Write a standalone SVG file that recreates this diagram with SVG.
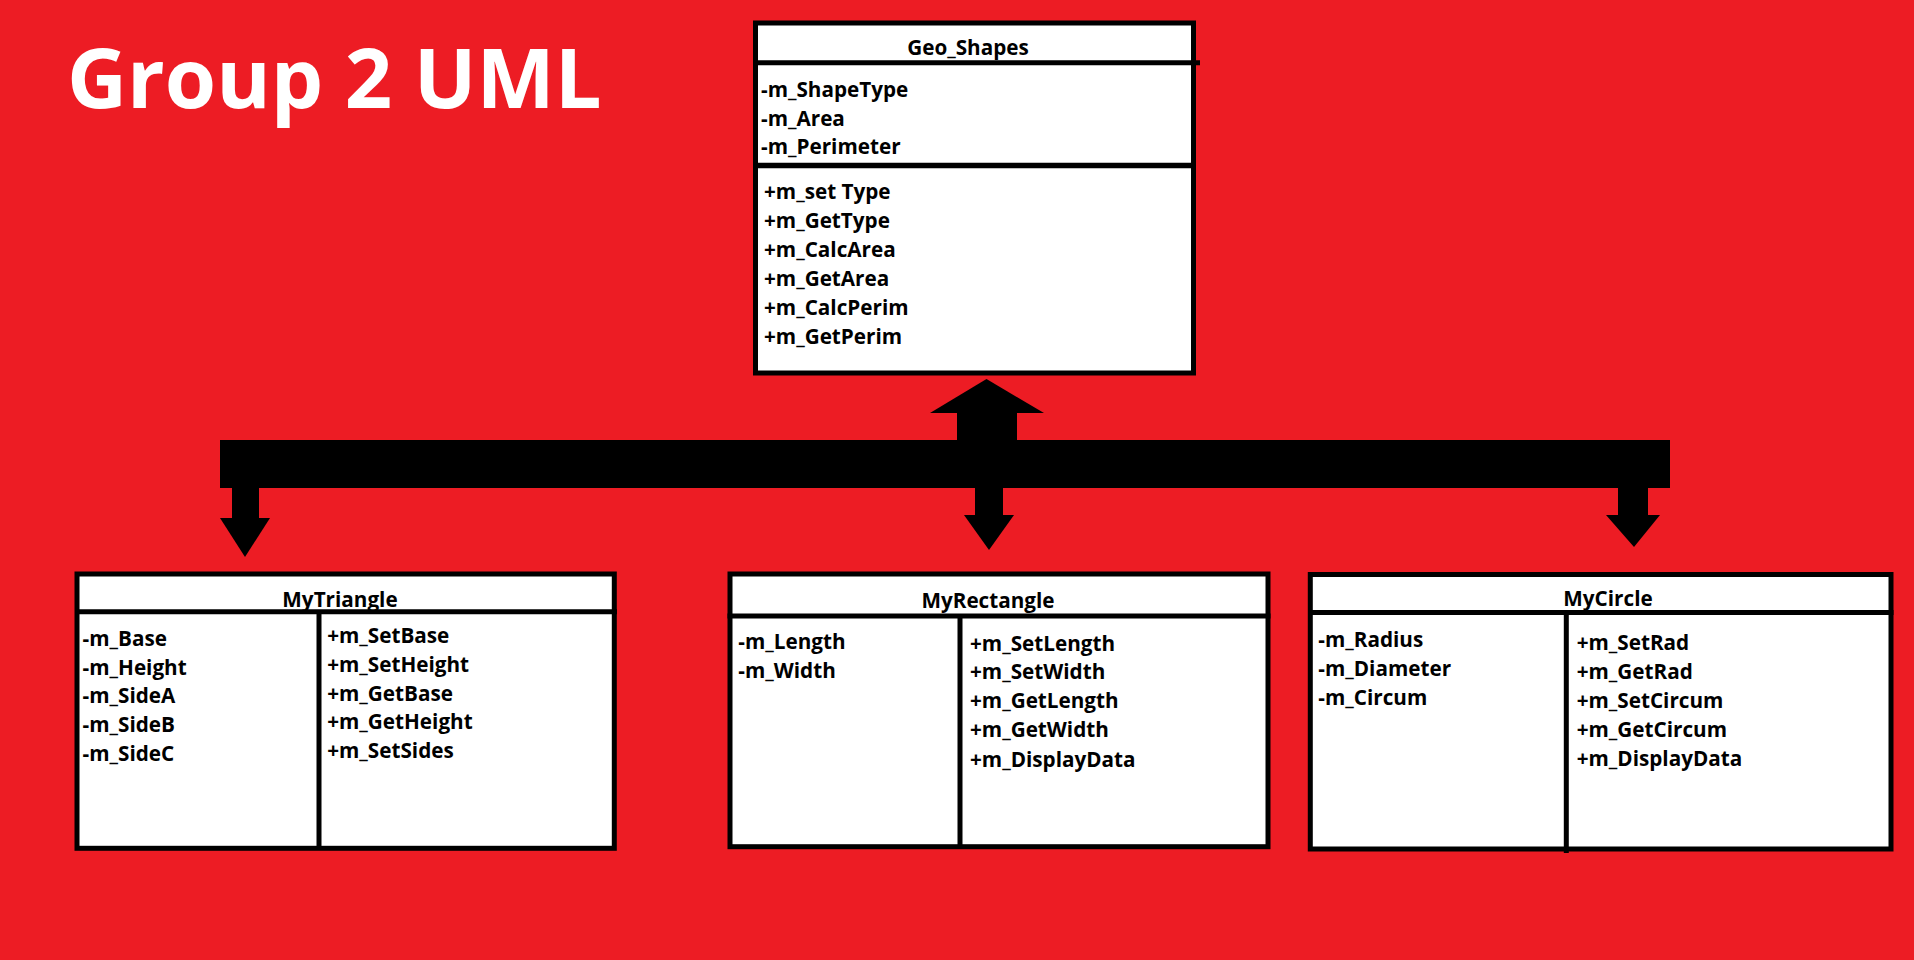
<svg xmlns="http://www.w3.org/2000/svg" width="1914" height="960" viewBox="0 0 1914 960">
<style>
.box{fill:#fff;stroke:#000;stroke-width:5}
.ln{stroke:#000;stroke-width:5;fill:none}
.t{font-family:"Open Sans","Liberation Sans",sans-serif;font-weight:700;font-size:20.7px;fill:#000}
.c{text-anchor:middle}
.title{font-family:"Open Sans","Liberation Sans",sans-serif;font-weight:700;font-size:83px;fill:#fff}
.blk{fill:#000}
</style>
<rect x="0" y="0" width="1914" height="960" fill="#ED1C24"/>
<text class="title" x="67" y="108">Group 2 UML</text>

<g id="connectors">
<rect class="blk" x="220" y="440" width="1450" height="48"/>
<rect class="blk" x="957" y="412" width="60" height="30"/>
<polygon class="blk" points="930,413 1044,413 986.5,379"/>
<rect class="blk" x="232" y="486" width="27" height="33"/>
<polygon class="blk" points="220,518 270,518 245,557"/>
<rect class="blk" x="975" y="486" width="28" height="30"/>
<polygon class="blk" points="964,515 1014,515 989,550"/>
<rect class="blk" x="1618" y="486" width="30" height="30"/>
<polygon class="blk" points="1606,515 1660,515 1634,547"/>
</g>

<g id="Geo_Shapes">
<rect class="box" x="755.5" y="23" width="438" height="350"/>
<text class="t c" x="968" y="55">Geo_Shapes</text>
<line class="ln" x1="753" y1="62.7" x2="1200" y2="62.7"/>
<line class="ln" x1="753" y1="165.5" x2="1196" y2="165.5" style="stroke-width:5.5"/>
<text class="t" x="761" y="97">-m_ShapeType</text>
<text class="t" x="761" y="125.7">-m_Area</text>
<text class="t" x="761" y="154">-m_Perimeter</text>
<text class="t" x="764" y="199">+m_set Type</text>
<text class="t" x="764" y="228.3">+m_GetType</text>
<text class="t" x="764" y="257.3">+m_CalcArea</text>
<text class="t" x="764" y="286">+m_GetArea</text>
<text class="t" x="764" y="315">+m_CalcPerim</text>
<text class="t" x="764" y="344">+m_GetPerim</text>
</g>

<g id="MyTriangle">
<rect class="box" x="77" y="574" width="537.3" height="274.3"/>
<text class="t c" x="340" y="606.7">MyTriangle</text>
<line class="ln" x1="75" y1="611.7" x2="617" y2="611.7"/>
<line class="ln" x1="319" y1="612" x2="319" y2="846"/>
<text class="t" x="82.6" y="645.7">-m_Base</text>
<text class="t" x="82.6" y="674.7">-m_Height</text>
<text class="t" x="82.6" y="703.3">-m_SideA</text>
<text class="t" x="82.6" y="732.3">-m_SideB</text>
<text class="t" x="82.6" y="761">-m_SideC</text>
<text class="t" x="327.2" y="642.7">+m_SetBase</text>
<text class="t" x="327.2" y="671.7">+m_SetHeight</text>
<text class="t" x="327.2" y="700.7">+m_GetBase</text>
<text class="t" x="327.2" y="729.3">+m_GetHeight</text>
<text class="t" x="327.2" y="758.3">+m_SetSides</text>
</g>

<g id="MyRectangle">
<rect class="box" x="730" y="574" width="538" height="272.7"/>
<text class="t c" x="988" y="608.3">MyRectangle</text>
<line class="ln" x1="727.5" y1="616" x2="1270.5" y2="616"/>
<line class="ln" x1="960" y1="616" x2="960" y2="846"/>
<text class="t" x="738.3" y="649.3">-m_Length</text>
<text class="t" x="738.3" y="678.3">-m_Width</text>
<text class="t" x="970" y="650.7">+m_SetLength</text>
<text class="t" x="970" y="679.3">+m_SetWidth</text>
<text class="t" x="970" y="708.3">+m_GetLength</text>
<text class="t" x="970" y="737.3">+m_GetWidth</text>
<text class="t" x="970" y="766.7">+m_DisplayData</text>
</g>

<g id="MyCircle">
<rect class="box" x="1310.3" y="574.5" width="580.7" height="274.5"/>
<text class="t c" x="1608" y="605.7">MyCircle</text>
<line class="ln" x1="1308" y1="612.5" x2="1893.5" y2="612.5"/>
<line class="ln" x1="1566.3" y1="612.5" x2="1566.3" y2="853"/>
<text class="t" x="1318.3" y="647.3">-m_Radius</text>
<text class="t" x="1318.3" y="676">-m_Diameter</text>
<text class="t" x="1318.3" y="705">-m_Circum</text>
<text class="t" x="1576.7" y="650">+m_SetRad</text>
<text class="t" x="1576.7" y="679">+m_GetRad</text>
<text class="t" x="1576.7" y="707.7">+m_SetCircum</text>
<text class="t" x="1576.7" y="736.7">+m_GetCircum</text>
<text class="t" x="1576.7" y="765.7">+m_DisplayData</text>
</g>
</svg>
